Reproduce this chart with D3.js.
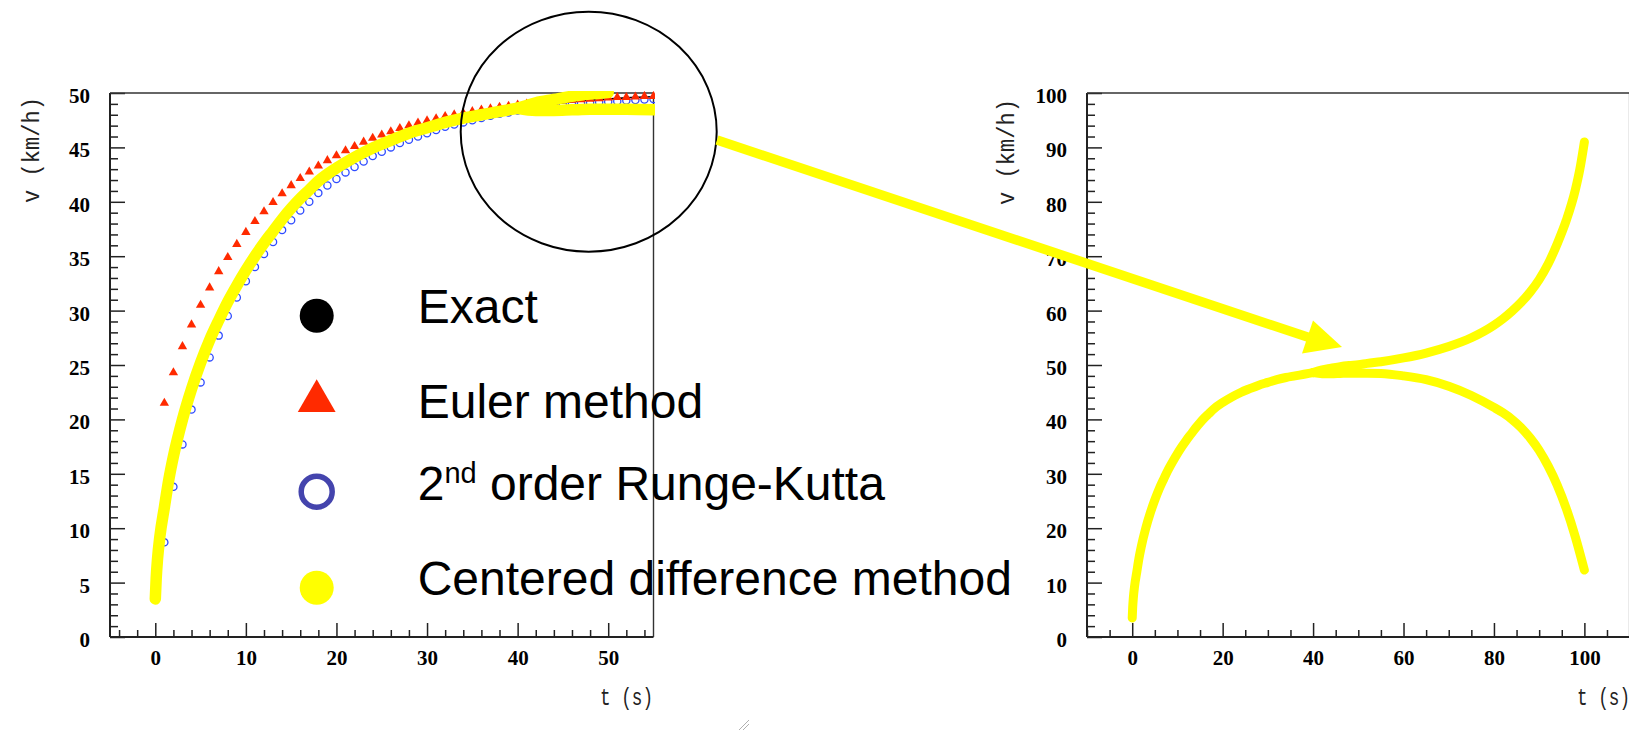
<!DOCTYPE html>
<html>
<head>
<meta charset="utf-8">
<script src="https://cdn.jsdelivr.net/npm/d3@7"></script>
<style>
  html, body { margin: 0; padding: 0; background: #fff; overflow: hidden; }
  svg { display: block; }
  .tick text { font-family: "Liberation Serif", "Times New Roman", serif; font-weight: bold; font-size: 21px; fill: #000; }
  .tick line { stroke: #222; stroke-width: 1.5; }
  .axtitle { font-family: "Liberation Mono", "DejaVu Sans Mono", monospace; font-size: 23px; fill: #222; }
  .legend { font-family: "Liberation Sans", Arial, sans-serif; font-size: 48px; fill: #000; }
</style>
</head>
<body>
<svg id="c" width="1629" height="738"></svg>
<script>
// ---- data: velocity v (km/h) versus time t (s) ----
// Euler method, one step per second
const eulerT = d3.range(0, 56);
const eulerV = [3.5, 21.5, 24.3, 26.7, 28.7, 30.5, 32.1, 33.6, 34.9, 36.1,
  37.2, 38.2, 39.1, 39.95, 40.75, 41.5, 42.15, 42.75, 43.3, 43.8,
  44.25, 44.7, 45.1, 45.5, 45.85, 46.15, 46.45, 46.75, 47.0, 47.25,
  47.45, 47.65, 47.85, 48.0, 48.15, 48.3, 48.45, 48.55, 48.7, 48.8,
  48.9, 49.0, 49.05, 49.15, 49.2, 49.3, 49.35, 49.4, 49.45, 49.5,
  49.55, 49.6, 49.6, 49.65, 49.7, 49.7];

// 2nd order Runge-Kutta, one step per second
const rkT = d3.range(0, 56);
const rkV = [3.5, 8.7, 13.8, 17.7, 20.9, 23.4, 25.7, 27.7, 29.5, 31.2,
  32.7, 34.0, 35.2, 36.3, 37.4, 38.3, 39.2, 40.0, 40.8, 41.5,
  42.1, 42.7, 43.2, 43.7, 44.2, 44.6, 45.0, 45.4, 45.7, 46.0,
  46.3, 46.6, 46.9, 47.1, 47.3, 47.5, 47.7, 47.9, 48.1, 48.2,
  48.4, 48.5, 48.6, 48.7, 48.8, 48.9, 49.0, 49.05, 49.1, 49.15,
  49.2, 49.25, 49.3, 49.35, 49.4, 49.45];

// Centered difference method: common trunk, then the two interleaved
// solutions separate (upper and lower branch)
const cdTrunkT = [0, 0.1, 0.25, 0.5, 1, 1.5, 2, 3, 4, 5, 6, 7, 8, 9, 10,
  11, 12, 13, 14, 15, 16, 17, 18, 20, 22, 24, 26, 28, 30, 32, 34, 36, 38, 40];
const cdTrunkV = [3.5, 5.4, 7.2, 9.2, 11.9, 14.5, 16.6, 20.0, 22.8, 25.2,
  27.3, 29.1, 30.8, 32.3, 33.7, 35.0, 36.2, 37.3, 38.4, 39.4, 40.3, 41.1, 41.9,
  43.1, 44.1, 44.95, 45.65, 46.3, 46.8, 47.3, 47.7, 48.0, 48.3, 48.6];
const cdUpperT = [40, 42, 44, 46, 48, 50, 52, 55, 60, 65, 70, 75, 80, 82, 84,
  86, 88, 90, 92, 94, 96, 98, 99, 100];
const cdUpperV = [48.6, 49.1, 49.4, 49.7, 49.9, 50.05, 50.3, 50.6, 51.3, 52.2,
  53.4, 55.0, 57.3, 58.5, 59.9, 61.5, 63.4, 65.7, 68.6, 72.3, 76.6, 82.2, 86.0, 91.0];
const cdLowerT = [40, 42, 44, 46, 48, 50, 52, 55, 60, 65, 70, 75, 80, 82, 84,
  86, 88, 90, 92, 94, 96, 98, 100];
const cdLowerV = [48.6, 48.4, 48.4, 48.45, 48.5, 48.5, 48.5, 48.45, 48.0, 47.3,
  46.1, 44.4, 42.2, 41.2, 40.0, 38.5, 36.6, 34.3, 31.4, 27.9, 23.6, 18.4, 12.3];

// Exact solution
const exactT = [0, 0.1, 0.25, 0.5, 1, 1.5, 2, 3, 4, 5, 6, 7, 8, 9, 10, 12, 14,
  16, 18, 20, 22, 24, 26, 28, 30, 32, 34, 36, 38, 40, 42, 44, 46, 48, 50, 52, 55];
const exactV = [3.5, 5.4, 7.2, 9.2, 11.9, 14.5, 16.6, 20.0, 22.8, 25.2, 27.3,
  29.1, 30.8, 32.3, 33.7, 36.2, 38.4, 40.3, 41.9, 43.1, 44.1, 44.95, 45.65, 46.3,
  46.8, 47.3, 47.7, 48.0, 48.3, 48.55, 48.8, 49.0, 49.2, 49.35, 49.45, 49.55, 49.65];

// tick labels
const leftXTicks = [0, 10, 20, 30, 40, 50];
const leftYTicks = [0, 5, 10, 15, 20, 25, 30, 35, 40, 45, 50];
const rightXTicks = [0, 20, 40, 60, 80, 100];
const rightYTicks = [0, 10, 20, 30, 40, 50, 60, 70, 80, 90, 100];

// legend entries
const legendLabels = ["Exact", "Euler method", "2nd order Runge-Kutta", "Centered difference method"];

const zip = (ts, vs) => ts.map((t, i) => ({ t: t, v: vs[i] }));

const svg = d3.select("#c");
const YELLOW = "#ffff00";

// ---- scales ----
const xL = d3.scaleLinear().domain([-5, 55]).range([110, 653.5]);
const yL = d3.scaleLinear().domain([0, 50]).range([637, 93]);
const xR = d3.scaleLinear().domain([-10, 110]).range([1087, 1629.6]);
const yR = d3.scaleLinear().domain([0, 100]).range([637, 93]);

function drawFrame(g, x, y, xMajor, xMinorStep, yMajor, yMinorStep) {
  const [x0, x1] = x.range();
  const [y0, y1] = y.range();
  const [dx0, dx1] = x.domain();
  const [dy0, dy1] = y.domain();
  const xMinor = d3.range(Math.ceil(dx0 / xMinorStep) * xMinorStep, dx1 + 1e-9, xMinorStep)
    .filter(v => !xMajor.includes(v));
  const yMinor = d3.range(Math.ceil(dy0 / yMinorStep) * yMinorStep, dy1 + 1e-9, yMinorStep)
    .filter(v => !yMajor.includes(v) && v > dy0);

  // minor ticks
  g.append("g").attr("transform", `translate(0,${y0})`)
    .call(d3.axisBottom(x).tickValues(xMinor).tickSize(-7).tickFormat(""))
    .call(s => s.select(".domain").remove());
  g.append("g").attr("transform", `translate(${x0},0)`)
    .call(d3.axisLeft(y).tickValues(yMinor).tickSize(-8).tickFormat(""))
    .call(s => s.select(".domain").remove());
  // major ticks with labels
  g.append("g").attr("transform", `translate(0,${y0})`)
    .call(d3.axisBottom(x).tickValues(xMajor).tickSize(-14).tickPadding(13).tickFormat(d3.format("d")))
    .call(s => s.select(".domain").remove());
  g.append("g").attr("transform", `translate(${x0},0)`)
    .call(d3.axisLeft(y).tickValues(yMajor).tickSize(-15).tickPadding(20).tickFormat(d3.format("d")))
    .call(s => s.select(".domain").remove())
    .call(s => s.selectAll("text").attr("dy", "0.45em"));

  // frame
  g.append("line").attr("x1", x0).attr("x2", x0).attr("y1", y1).attr("y2", y0)
    .attr("stroke", "#222").attr("stroke-width", 2);
  g.append("line").attr("x1", x0).attr("x2", x1).attr("y1", y0).attr("y2", y0)
    .attr("stroke", "#222").attr("stroke-width", 2);
  g.append("line").attr("x1", x0).attr("x2", x1).attr("y1", y1).attr("y2", y1)
    .attr("stroke", "#333").attr("stroke-width", 1.4);
  g.append("line").attr("x1", x1).attr("x2", x1).attr("y1", y1).attr("y2", y0)
    .attr("stroke", "#333").attr("stroke-width", 1.4);
}

function axisTitles(g, yTitleX, yTitleY, xTitleX, xTitleEnd) {
  g.append("text").attr("class", "axtitle")
    .attr("transform", `translate(${yTitleX},${yTitleY}) rotate(-90)`)
    .attr("text-anchor", "middle")
    .attr("textLength", 106).attr("lengthAdjust", "spacingAndGlyphs")
    .text("v (km/h)");
  g.append("text").attr("class", "axtitle")
    .attr("x", xTitleX).attr("y", 705)
    .attr("textLength", xTitleEnd - xTitleX).attr("lengthAdjust", "spacingAndGlyphs")
    .text("t (s)");
}

// ================= left panel =================
const gL = svg.append("g");
drawFrame(gL, xL, yL, leftXTicks, 2, leftYTicks, 1);
axisTitles(gL, 39, 150, 600, 653);

svg.append("clipPath").attr("id", "clipL").append("rect")
  .attr("x", 104).attr("y", 91).attr("width", 655 - 104).attr("height", 650 - 91);

const lineL = d3.line().x(d => xL(d.t)).y(d => yL(d.v)).curve(d3.curveMonotoneX);
const plotL = gL.append("g").attr("clip-path", "url(#clipL)");

// exact solution
plotL.append("path").datum(zip(exactT, exactV))
  .attr("d", lineL).attr("fill", "none").attr("stroke", "#000").attr("stroke-width", 1.6);

// Runge-Kutta markers
plotL.append("g").selectAll("circle").data(zip(rkT, rkV)).join("circle")
  .attr("cx", d => xL(d.t)).attr("cy", d => yL(d.v)).attr("r", 3.6)
  .attr("fill", "none").attr("stroke", "#2f4cff").attr("stroke-width", 1.3);

// Euler markers
const triSmall = d3.symbol(d3.symbolTriangle, 38);
plotL.append("g").selectAll("path").data(zip(eulerT, eulerV)).join("path")
  .attr("d", triSmall)
  .attr("transform", d => `translate(${xL(d.t)},${yL(d.v)})`)
  .attr("fill", "#ff2a00");

// centered difference (only the part inside the 0-55 s, 0-50 km/h window)
[zip(cdTrunkT, cdTrunkV), zip(cdUpperT, cdUpperV), zip(cdLowerT, cdLowerV)].forEach(ser => {
  plotL.append("path").datum(ser.filter(d => d.t <= 56 && d.v <= 50.05))
    .attr("d", lineL).attr("fill", "none").attr("stroke", YELLOW)
    .attr("stroke-width", 11.5).attr("stroke-linecap", "round").attr("stroke-linejoin", "round");
});

// ================= right panel =================
const gR = svg.append("g");
drawFrame(gR, xR, yR, rightXTicks, 5, rightYTicks, 2);
axisTitles(gR, 1014, 152, 1577, 1630);

const lineR = d3.line().x(d => xR(d.t)).y(d => yR(d.v)).curve(d3.curveMonotoneX);
[zip(cdTrunkT, cdTrunkV), zip(cdUpperT, cdUpperV), zip(cdLowerT, cdLowerV)].forEach(ser => {
  gR.append("path").datum(ser)
    .attr("d", lineR).attr("fill", "none").attr("stroke", YELLOW)
    .attr("stroke-width", 9).attr("stroke-linecap", "round").attr("stroke-linejoin", "round");
});

// ================= legend =================
const leg = svg.append("g");
const markerX = 316.7, textX = 417.7;
const baselines = [323, 418, 499.5, 595];

leg.append("circle").attr("cx", markerX).attr("cy", 315.7).attr("r", 17).attr("fill", "#000");
leg.append("path").attr("d", d3.symbol(d3.symbolTriangle, 620))
  .attr("transform", `translate(${markerX},${401})`).attr("fill", "#ff2a00");
leg.append("circle").attr("cx", markerX).attr("cy", 491.7).attr("r", 15.5)
  .attr("fill", "none").attr("stroke", "#4444ad").attr("stroke-width", 5.5);
leg.append("circle").attr("cx", markerX).attr("cy", 587.7).attr("r", 17).attr("fill", YELLOW);

legendLabels.forEach((lab, i) => {
  const t = leg.append("text").attr("class", "legend").attr("x", textX).attr("y", baselines[i]);
  if (lab.startsWith("2nd")) {
    t.append("tspan").text("2");
    t.append("tspan").attr("font-size", "29px").attr("dy", -17).text("nd");
    t.append("tspan").attr("dy", 17).text(lab.slice(3));
  } else {
    t.text(lab);
  }
});

// ================= zoom highlight =================
svg.append("ellipse").attr("cx", 588.7).attr("cy", 131.7).attr("rx", 128).attr("ry", 120)
  .attr("fill", "none").attr("stroke", "#000").attr("stroke-width", 2);

svg.append("line").attr("x1", 717).attr("y1", 140).attr("x2", 1312).attr("y2", 338.5)
  .attr("stroke", YELLOW).attr("stroke-width", 9.5);
svg.append("path").attr("d", "M1342,347 L1313,320.5 L1302,353.5 Z").attr("fill", YELLOW);

// small resize grip
const grip = svg.append("g").attr("stroke", "#b0b0b0").attr("stroke-width", 1);
grip.append("line").attr("x1", 739).attr("y1", 730).attr("x2", 749).attr("y2", 720);
grip.append("line").attr("x1", 743).attr("y1", 730).attr("x2", 749).attr("y2", 724);
</script>
</body>
</html>
